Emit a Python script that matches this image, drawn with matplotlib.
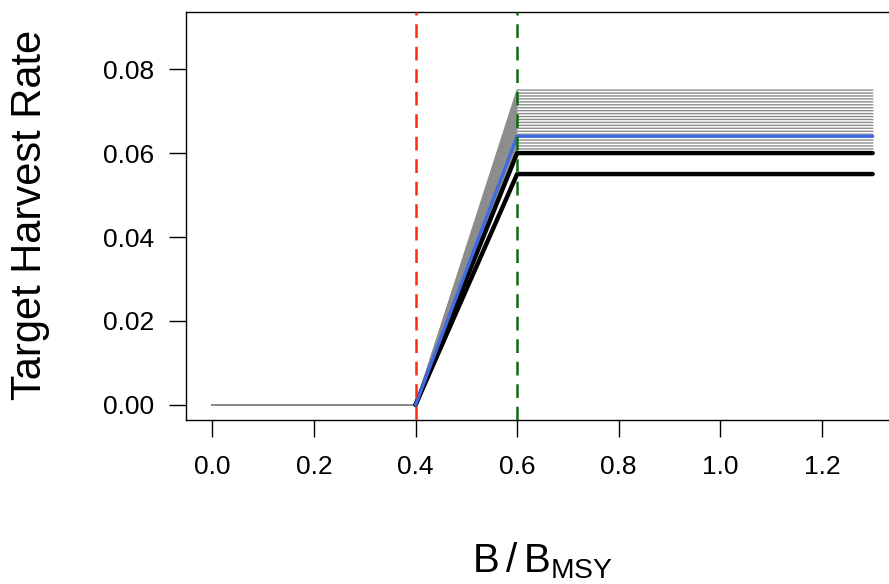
import matplotlib
matplotlib.use('Agg')
from matplotlib import pyplot as plt

plt.rcParams['font.family'] = ['Liberation Sans', 'DejaVu Sans']
plt.rcParams['mathtext.fontset'] = 'custom'
plt.rcParams['mathtext.rm'] = 'Liberation Sans'

# biomass breakpoints (B/Bmsy): zero below limit, ramp to target, flat above
b_points = [0.0, 0.4, 0.6, 1.3]
b_limit = 0.4
b_target = 0.6

# max harvest rates of the grey alternatives
grey_rates = [0.0750, 0.0743, 0.0736, 0.0729, 0.0722, 0.0715, 0.0708, 0.0701,
              0.0694, 0.0687, 0.0680, 0.0673, 0.0666, 0.0659, 0.0652, 0.0645,
              0.0631, 0.0624, 0.0617, 0.0610]
black_rates = [0.060, 0.055]
blue_rate = 0.064

x_ticks = [0.0, 0.2, 0.4, 0.6, 0.8, 1.0, 1.2]
y_ticks = [0.00, 0.02, 0.04, 0.06, 0.08]


def hcr(rate):
    return [0.0, 0.0, rate, rate]


fig = plt.figure(figsize=(8.89, 5.84), dpi=100)
ax = fig.add_axes([0.2092, 0.2808, 0.8021, 0.6986])

for r in grey_rates:
    ax.plot(b_points, hcr(r), color='#8c8c8c', lw=1.0, zorder=2)
for r in black_rates:
    ax.plot(b_points[1:], hcr(r)[1:], color='black', lw=3.2, zorder=3,
            solid_capstyle='round')
ax.plot(b_points[1:], hcr(blue_rate)[1:], color='#4169e1', lw=2.4, zorder=4,
        solid_capstyle='round')

ax.axvline(b_limit, color='#ff2a0a', lw=1.8, dashes=(5.5, 3.5), zorder=5)
ax.axvline(b_target, color='#0d6b0d', lw=1.8, dashes=(5.5, 3.5), zorder=5)

ax.set_xlim(-0.052, 1.352)
ax.set_ylim(-0.0036, 0.0936)
ax.set_xticks(x_ticks)
ax.set_xticklabels(['%.1f' % v for v in x_ticks])
ax.set_yticks(y_ticks)
ax.set_yticklabels(['%.2f' % v for v in y_ticks])
ax.tick_params(axis='both', direction='out', length=12, width=1, labelsize=19)
ax.tick_params(axis='x', pad=13)
ax.tick_params(axis='y', pad=11)
for s in ax.spines.values():
    s.set_linewidth(1)

fig.text(0.034, 0.632, 'Target Harvest Rate', rotation=90, fontsize=30,
         ha='center', va='center')
fig.text(0.61, 0.04, r'$\mathrm{B\,/\,B_{MSY}}$', fontsize=29,
         ha='center', va='center')

fig.savefig('out.png', dpi=100)
